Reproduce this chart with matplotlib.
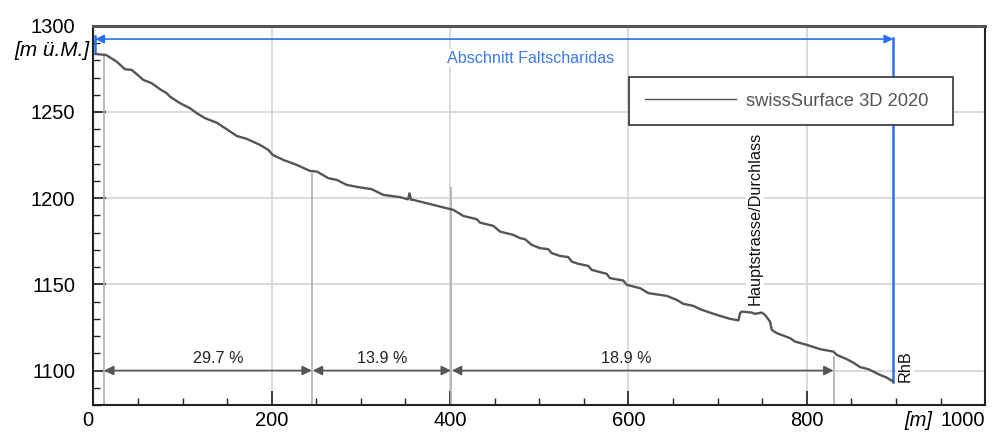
import matplotlib.pyplot as plt
import numpy as np
from matplotlib.ticker import MultipleLocator

plt.rcParams['font.family'] = ['Liberation Sans', 'DejaVu Sans']

# Longitudinal profile (distance [m], elevation [m ü.M.])
dist = [2.9, 14.1, 26.1, 35.4, 43.0, 56.0, 65.4, 74.7, 82.2, 85.9, 97.1, 108.3,
        115.9, 125.2, 138.3, 149.5, 160.7, 171.9, 186.8, 196.2, 201.1, 213.0,
        228.0, 242.9, 250.8, 263.4, 272.9, 284.1, 297.1, 312.1, 325.1, 343.9,
        352.8, 354.5, 356.2, 358.7, 381.1, 403.6, 414.8, 429.9, 433.6, 448.5,
        456.0, 470.9, 478.4, 484.0, 491.5, 500.8, 510.1, 514.0, 523.3, 532.6,
        536.4, 543.8, 555.0, 558.8, 568.1, 575.6, 579.3, 594.3, 598.1, 613.0,
        622.3, 643.0, 654.2, 661.6, 672.8, 680.3, 691.5, 702.7, 713.9, 723.3,
        725.2, 727.1, 738.3, 742.0, 749.5, 753.2, 758.8, 760.7, 766.3, 781.2,
        786.9, 800.0, 814.9, 829.8, 833.6, 844.8, 852.2, 859.7, 869.0, 882.1,
        889.7, 897.0]
elev = [1283.6, 1283.1, 1279.2, 1274.8, 1274.4, 1268.6, 1266.7, 1263.2, 1260.9,
        1258.9, 1255.1, 1252.2, 1249.3, 1246.4, 1243.8, 1240.0, 1236.1, 1234.4,
        1230.9, 1228.0, 1225.1, 1222.2, 1219.3, 1215.8, 1215.4, 1211.6, 1210.6,
        1207.7, 1206.4, 1205.2, 1201.9, 1200.6, 1199.3, 1202.8, 1199.1, 1199.0,
        1196.1, 1193.2, 1189.7, 1187.8, 1185.8, 1183.9, 1180.6, 1178.7, 1176.8,
        1176.2, 1172.9, 1171.0, 1170.4, 1168.1, 1166.5, 1165.8, 1163.2, 1161.9,
        1160.7, 1158.4, 1157.1, 1156.1, 1153.6, 1152.2, 1149.7, 1147.8, 1144.9,
        1143.3, 1141.0, 1138.7, 1137.5, 1135.6, 1133.6, 1131.7, 1130.0, 1129.1,
        1133.3, 1134.2, 1133.6, 1132.9, 1133.6, 1132.3, 1128.4, 1123.6, 1121.7,
        1118.8, 1116.8, 1114.9, 1112.4, 1111.0, 1109.1, 1106.6, 1104.6, 1102.0,
        1100.8, 1097.5, 1095.9, 1093.6]

# Sections with mean gradient
sec_start = [12, 246, 402]
sec_end = [245, 401, 830]
sec_label = ['29.7 %', '13.9 %', '18.9 %']
sec_label_x = [140, 324, 598]
bound_x = [12, 245, 401, 830]
bound_top = [1283, 1214, 1206, 1108]

abschnitt_start, abschnitt_end = 2, 897

fig = plt.figure(figsize=(10, 4.32), dpi=100)
ax = fig.add_axes([0.0934, 0.0625, 0.8917, 0.8778])

ax.set_xlim(0, 1000)
ax.set_ylim(1080, 1300)
ax.set_xticks([0, 200, 400, 600, 800, 1000])
ax.set_yticks([1100, 1150, 1200, 1250, 1300])
ax.xaxis.set_minor_locator(MultipleLocator(50))
ax.yaxis.set_minor_locator(MultipleLocator(10))
ax.tick_params(which='both', direction='in', colors='#222', labelsize=14.5,
               labelcolor='black')
ax.tick_params(axis='x', which='major', length=10, width=1.2, pad=4.5)
ax.tick_params(axis='y', which='major', length=9, width=1.2, pad=13)
ax.tick_params(which='minor', length=5, width=1)
xl = ax.get_xticklabels()
xl[0].set_horizontalalignment('right')
xl[-1].set_horizontalalignment('right')
ax.grid(True, which='major', color='#d4d4d4', lw=1.2, zorder=0)
ax.set_axisbelow(True)
for s in ['left', 'bottom', 'right']:
    ax.spines[s].set_color('#222')
    ax.spines[s].set_linewidth(1.5)
ax.spines['top'].set_color('#555')
ax.spines['top'].set_linewidth(2.2)

# section boundaries
for bx, bt in zip(bound_x, bound_top):
    ax.plot([bx, bx], [1080, bt], color='#b4b4b4', lw=1.3, zorder=1)

# profile
ax.plot(dist, elev, color='#555555', lw=1.7, zorder=4,
        label='swissSurface 3D 2020')

# section arrows
for a, b, lab, lx in zip(sec_start, sec_end, sec_label, sec_label_x):
    ax.annotate('', xy=(b, 1100), xytext=(a, 1100),
                arrowprops=dict(arrowstyle='<|-|>', color='#555', lw=1.2,
                                mutation_scale=14, shrinkA=0, shrinkB=0),
                zorder=3)
    ax.text(lx, 1102.5, lab, ha='center', va='bottom', fontsize=11.6, color='#222')

# Abschnitt arrow
blue = '#2a6ef0'
ax.annotate('', xy=(abschnitt_end, 1292.3), xytext=(abschnitt_start, 1292.3),
            arrowprops=dict(arrowstyle='<|-|>', color=blue, lw=1.2,
                            mutation_scale=13, shrinkA=0, shrinkB=0), zorder=3)
ax.plot([abschnitt_start, abschnitt_start], [1284, 1294.2], color=blue, lw=1.8, zorder=3)
ax.plot([abschnitt_end, abschnitt_end], [elev[-1], 1293], color=blue, lw=1.8, zorder=3)
ax.text(490, 1281.3, 'Abschnitt Faltscharidas', ha='center', va='center',
        fontsize=11.6, color='#3d7be8',
        bbox=dict(facecolor='white', edgecolor='none', pad=1), zorder=2)

ax.text(742, 1138, 'Hauptstrasse/Durchlass', rotation=90, ha='center',
        va='bottom', fontsize=11.7, color='#111',
        bbox=dict(facecolor='white', edgecolor='none', pad=1), zorder=2)
ax.text(910, 1093.5, 'RhB', rotation=90, ha='center', va='bottom',
        fontsize=11.7, color='#111',
        bbox=dict(facecolor='white', edgecolor='none', pad=1), zorder=2)

ax.text(-0.004, 0.936, '[m ü.M.]', transform=ax.transAxes, ha='right',
        va='center', fontsize=15, style='italic')
ax.annotate('[m]', xy=(925, 0), xycoords=('data', 'axes fraction'),
            xytext=(0, -4.5), textcoords='offset points', ha='center', va='top',
            fontsize=14.5, style='italic')

leg = ax.legend(loc='upper left', bbox_to_anchor=(0.6007, 0.865, 0.3633, 0),
                mode='expand', borderpad=0.85, handlelength=5.0,
                handletextpad=0.55, fancybox=False, framealpha=1,
                edgecolor='#333', fontsize=13.2, borderaxespad=0)
leg.get_frame().set_linewidth(1.2)
for t in leg.get_texts():
    t.set_color('#555')
leg.get_lines()[0].set_linewidth(1)

fig.savefig('out.png', dpi=100)
